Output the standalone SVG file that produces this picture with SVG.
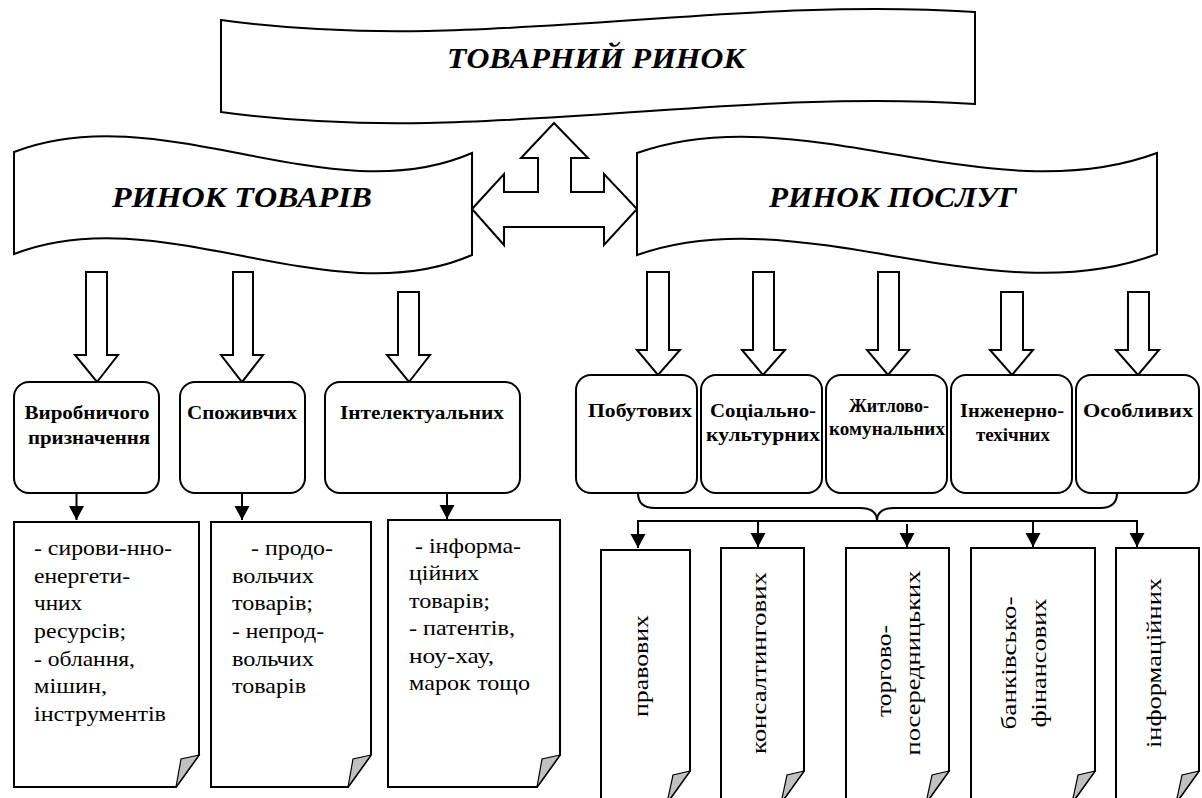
<svg xmlns="http://www.w3.org/2000/svg" width="1202" height="798" viewBox="0 0 1202 798">
<style>
.shape{fill:#fff;stroke:#000;stroke-width:2;stroke-linejoin:miter}
.fold{fill:#c0c0c0;stroke:#000;stroke-width:1.2}
text{font-family:'Liberation Serif','Times New Roman',Tinos,'Noto Serif','DejaVu Serif',FreeSerif,Times,serif;fill:#000}
.ttl{font-weight:bold;font-style:italic;text-anchor:middle}
.lbl{font-weight:bold;font-size:19.5px;text-anchor:middle}
.doc{font-size:22px}
.vt{font-size:22px;text-anchor:middle}
.conn{stroke:#000;stroke-width:2;fill:none}
</style>
<defs>
<marker id="ah" markerUnits="userSpaceOnUse" markerWidth="16" markerHeight="16" refX="14" refY="8" orient="auto">
<path d="M0,0.5 L14,8 L0,15.5 Z" fill="#000"/>
</marker>
</defs>

<rect width="1202" height="798" fill="#fff"/>

<g id="tovarnyi-rynok">
<path class="shape" d="M221,20 C470,55 720,-5 975,12 V104 C720,87 470,147 221,112 Z"/>
<text class="ttl" x="596" y="68" font-size="30" textLength="298" lengthAdjust="spacingAndGlyphs">ТОВАРНИЙ РИНОК</text>
</g>

<g id="rynok-tovariv">
<path class="shape" d="M14,152 C160,95 330,215 472,153 V255 C330,317 160,197 14,254 Z"/>
<text class="ttl" x="242" y="207" font-size="29" textLength="260" lengthAdjust="spacingAndGlyphs">РИНОК ТОВАРІВ</text>
</g>

<g id="rynok-posluh">
<path class="shape" d="M637,153 C800,95 990,215 1157,153 V254 C990,317 800,197 637,255 Z"/>
<text class="ttl" x="893" y="207" font-size="29" textLength="248" lengthAdjust="spacingAndGlyphs">РИНОК ПОСЛУГ</text>
</g>

<g id="block-arrows">
<path class="shape" d="M472,209 L504,174 V192 H538 V158 H521 L554,123 L588,158 H571 V192 H604 V174 L637,209 L604,245 V227 H504 V245 Z"/>
<path class="shape" d="M86,272 H107 V355 H118 L97,382 L75,355 H86 Z"/>
<path class="shape" d="M233,272 H253 V355 H263 L242,382 L221,355 H233 Z"/>
<path class="shape" d="M398,292 H419 V355 H430 L409,382 L387,355 H398 Z"/>
<path class="shape" d="M647,272 H669 V350 H680 L658,375 L637,350 H647 Z"/>
<path class="shape" d="M753,272 H774 V350 H785 L763,375 L742,350 H753 Z"/>
<path class="shape" d="M878,272 H899 V350 H909 L888,375 L867,350 H878 Z"/>
<path class="shape" d="M1001,292 H1023 V350 H1033 L1012,375 L990,350 H1001 Z"/>
<path class="shape" d="M1128,292 H1149 V350 H1159 L1138,375 L1116,350 H1128 Z"/>
</g>

<g id="box-vyrobnychoho">
<rect class="shape" x="14" y="382" width="145" height="111" rx="15"/>
<text class="lbl" x="87" y="419" textLength="125" lengthAdjust="spacingAndGlyphs">Виробничого</text>
<text class="lbl" x="89" y="444" textLength="122" lengthAdjust="spacingAndGlyphs">призначення</text>
</g>
<g id="box-spozhyvchykh">
<rect class="shape" x="180" y="382" width="125" height="111" rx="15"/>
<text class="lbl" x="242" y="419" textLength="110" lengthAdjust="spacingAndGlyphs">Споживчих</text>
</g>
<g id="box-intelektualnykh">
<rect class="shape" x="325" y="382" width="195" height="111" rx="15"/>
<text class="lbl" x="422" y="419" textLength="164" lengthAdjust="spacingAndGlyphs">Інтелектуальних</text>
</g>

<g id="box-pobutovykh">
<rect class="shape" x="576" y="375" width="121" height="118" rx="15"/>
<text class="lbl" x="640" y="417" textLength="104" lengthAdjust="spacingAndGlyphs">Побутових</text>
</g>
<g id="box-sotsialno">
<rect class="shape" x="701" y="375" width="121" height="118" rx="15"/>
<text class="lbl" x="763" y="417" textLength="106" lengthAdjust="spacingAndGlyphs">Соціально-</text>
<text class="lbl" x="763" y="441" textLength="114" lengthAdjust="spacingAndGlyphs">культурних</text>
</g>
<g id="box-zhytlovo">
<rect class="shape" x="826" y="375" width="121" height="118" rx="15"/>
<text class="lbl" x="889" y="412" font-size="16" textLength="80" lengthAdjust="spacingAndGlyphs">Житлово-</text>
<text class="lbl" x="887" y="435" font-size="16" textLength="116" lengthAdjust="spacingAndGlyphs">комунальних</text>
</g>
<g id="box-inzhenerno">
<rect class="shape" x="951" y="375" width="121" height="118" rx="15"/>
<text class="lbl" x="1012" y="417" textLength="104" lengthAdjust="spacingAndGlyphs">Інженерно-</text>
<text class="lbl" x="1013" y="441" textLength="74" lengthAdjust="spacingAndGlyphs">техічних</text>
</g>
<g id="box-osoblyvykh">
<rect class="shape" x="1076" y="375" width="123" height="118" rx="15"/>
<text class="lbl" x="1138" y="417" textLength="110" lengthAdjust="spacingAndGlyphs">Особливих</text>
</g>

<g id="connectors">
<line class="conn" x1="76.5" y1="493" x2="76.5" y2="520" marker-end="url(#ah)"/>
<line class="conn" x1="242" y1="493" x2="242" y2="520" marker-end="url(#ah)"/>
<line class="conn" x1="447" y1="493" x2="447" y2="519" marker-end="url(#ah)"/>
<path class="conn" d="M638,493 Q638,508 655,508 L860,508 Q877,508 877,521 Q877,508 894,508 L1100,508 Q1117,508 1117,493"/>
<line class="conn" x1="637" y1="521" x2="1138" y2="521"/>
<line class="conn" x1="638" y1="521" x2="638" y2="548" marker-end="url(#ah)"/>
<line class="conn" x1="758" y1="521" x2="758" y2="547" marker-end="url(#ah)"/>
<line class="conn" x1="907" y1="524" x2="907" y2="547" marker-end="url(#ah)"/>
<line class="conn" x1="1033" y1="521" x2="1033" y2="547" marker-end="url(#ah)"/>
<line class="conn" x1="1137" y1="521" x2="1137" y2="547" marker-end="url(#ah)"/>
</g>

<g id="doc-vyrobnychoho">
<path class="shape" d="M14,522 H199 V755 L176,787 H14 Z"/>
<path class="fold" d="M199,755 L181,759 L176,787 Z"/>
<text class="doc" x="34" y="555" textLength="138" lengthAdjust="spacingAndGlyphs">- сирови-нно-</text>
<text class="doc" x="34" y="583" textLength="96" lengthAdjust="spacingAndGlyphs">енергети-</text>
<text class="doc" x="34" y="610" textLength="48" lengthAdjust="spacingAndGlyphs">чних</text>
<text class="doc" x="34" y="638" textLength="92" lengthAdjust="spacingAndGlyphs">ресурсів;</text>
<text class="doc" x="34" y="666" textLength="101" lengthAdjust="spacingAndGlyphs">- облання,</text>
<text class="doc" x="34" y="693" textLength="73" lengthAdjust="spacingAndGlyphs">мішин,</text>
<text class="doc" x="34" y="721" textLength="132" lengthAdjust="spacingAndGlyphs">інструментів</text>
</g>
<g id="doc-spozhyvchykh">
<path class="shape" d="M211,522 H371 V755 L348,787 H211 Z"/>
<path class="fold" d="M371,755 L353,759 L348,787 Z"/>
<text class="doc" x="251" y="555" textLength="82" lengthAdjust="spacingAndGlyphs">- продо-</text>
<text class="doc" x="232" y="583" textLength="82" lengthAdjust="spacingAndGlyphs">вольчих</text>
<text class="doc" x="232" y="610" textLength="81" lengthAdjust="spacingAndGlyphs">товарів;</text>
<text class="doc" x="232" y="638" textLength="92" lengthAdjust="spacingAndGlyphs">- непрод-</text>
<text class="doc" x="232" y="666" textLength="82" lengthAdjust="spacingAndGlyphs">вольчих</text>
<text class="doc" x="232" y="693" textLength="74" lengthAdjust="spacingAndGlyphs">товарів</text>
</g>
<g id="doc-intelektualnykh">
<path class="shape" d="M388,520 H560 V755 L537,787 H388 Z"/>
<path class="fold" d="M560,755 L542,759 L537,787 Z"/>
<text class="doc" x="415" y="553" textLength="106" lengthAdjust="spacingAndGlyphs">- інформа-</text>
<text class="doc" x="409" y="580" textLength="70" lengthAdjust="spacingAndGlyphs">ційних</text>
<text class="doc" x="409" y="608" textLength="81" lengthAdjust="spacingAndGlyphs">товарів;</text>
<text class="doc" x="409" y="635" textLength="106" lengthAdjust="spacingAndGlyphs">- патентів,</text>
<text class="doc" x="409" y="663" textLength="85" lengthAdjust="spacingAndGlyphs">ноу-хау,</text>
<text class="doc" x="409" y="690" textLength="121" lengthAdjust="spacingAndGlyphs">марок тощо</text>
</g>

<g id="doc-pravovykh">
<path class="shape" d="M601,550 H690 V771 L667,803 H601 Z"/>
<path class="fold" d="M690,771 L673,775 L667,803 Z"/>
<text class="vt" transform="translate(648,666) rotate(-90)" textLength="102" lengthAdjust="spacingAndGlyphs">правових</text>
</g>
<g id="doc-konsaltynhovykh">
<path class="shape" d="M721,548 H804 V771 L781,803 H721 Z"/>
<path class="fold" d="M804,771 L787,775 L781,803 Z"/>
<text class="vt" transform="translate(766,663) rotate(-90)" textLength="182" lengthAdjust="spacingAndGlyphs">консалтингових</text>
</g>
<g id="doc-torhovo">
<path class="shape" d="M846,548 H949 V771 L926,803 H846 Z"/>
<path class="fold" d="M949,771 L932,775 L926,803 Z"/>
<text class="vt" transform="translate(891,671) rotate(-90)" textLength="92" lengthAdjust="spacingAndGlyphs">торгово-</text>
<text class="vt" transform="translate(920,663) rotate(-90)" textLength="185" lengthAdjust="spacingAndGlyphs">посередницьких</text>
</g>
<g id="doc-bankivsko">
<path class="shape" d="M971,548 H1095 V771 L1072,803 H971 Z"/>
<path class="fold" d="M1095,771 L1078,775 L1072,803 Z"/>
<text class="vt" transform="translate(1016,663) rotate(-90)" textLength="133" lengthAdjust="spacingAndGlyphs">банківсько-</text>
<text class="vt" transform="translate(1046,663) rotate(-90)" textLength="129" lengthAdjust="spacingAndGlyphs">фінансових</text>
</g>
<g id="doc-informatsiinykh">
<path class="shape" d="M1116,548 H1199 V771 L1176,803 H1116 Z"/>
<path class="fold" d="M1199,771 L1182,775 L1176,803 Z"/>
<text class="vt" transform="translate(1161,663) rotate(-90)" textLength="170" lengthAdjust="spacingAndGlyphs">інформаційних</text>
</g>
</svg>
